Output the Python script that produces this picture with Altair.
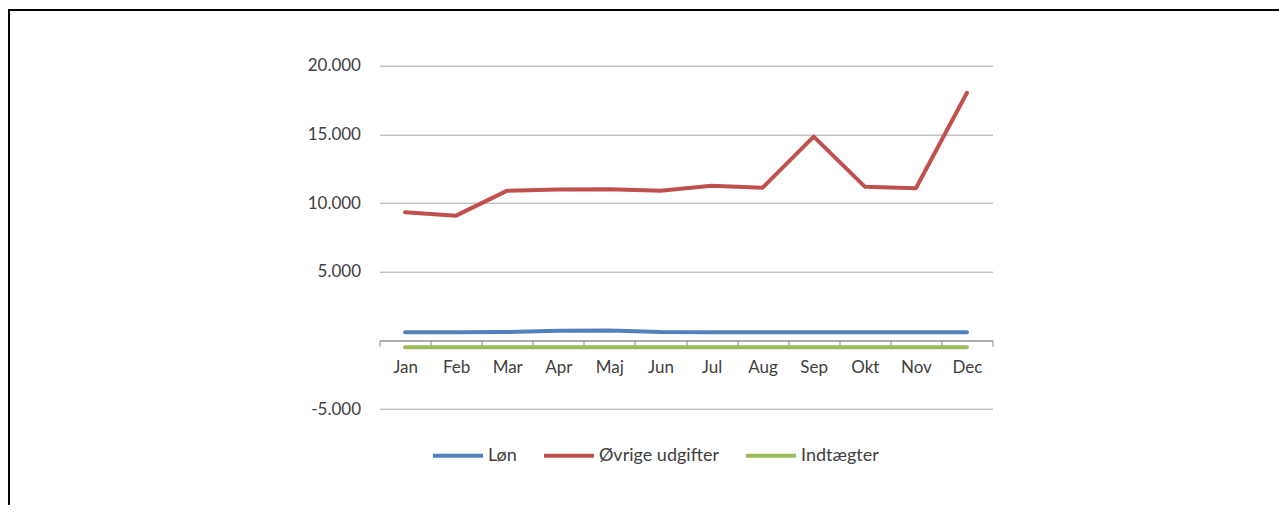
import altair as alt
import pandas as pd

# ---------------- data ----------------
months = ["Jan", "Feb", "Mar", "Apr", "Maj", "Jun", "Jul", "Aug", "Sep", "Okt", "Nov", "Dec"]
lon = [590, 590, 600, 690, 710, 600, 590, 590, 590, 590, 590, 590]
ovrige = [9320, 9080, 10900, 10980, 11000, 10900, 11260, 11120, 14830, 11190, 11080, 18030]
indtaegter = [-500, -500, -500, -500, -500, -500, -500, -500, -500, -500, -500, -500]
series_names = ["Løn", "Øvrige udgifter", "Indtægter"]
series_colors = ["#4F81BD", "#C0504D", "#9BBB59"]
y_ticks = [-5000, 0, 5000, 10000, 15000, 20000]
title_text = "Figur 1 – Forventet udgiftsniveau for løn, øvrige udgifter og indtægter 2019 i 1.000 kr."

rows = []
for i, m in enumerate(months):
    for name, vals in zip(series_names, [lon, ovrige, indtaegter]):
        rows.append({"Måned": m, "Serie": name, "Værdi": vals[i]})
df = pd.DataFrame(rows)

# ---------------- layout ----------------
W, H = 613, 343.3
YMIN, YMAX = -5000, 20000
zero_offset = -H * (0 - YMIN) / (YMAX - YMIN)
PAD_L, PAD_T = 371.5, 57.7
TOTAL_W, TOTAL_H = 1271, 497
FONT = "Lato"
FS = 17
LABEL_COLOR = "#404040"

x_axis = alt.Axis(
    offset=zero_offset,
    tickBand="extent",
    labelAngle=0,
    labelPadding=13,
    labelOverlap=False,
    tickSize=6,
    tickColor="#8C8C8C",
    domainColor="#8C8C8C",
    grid=False,
    title=None,
    labelFontSize=FS,
    labelFont=FONT,
    labelColor=LABEL_COLOR,
)

y_axis = alt.Axis(
    values=y_ticks,
    labelExpr="datum.value == 0 ? '' : (datum.value < 0 ? '-' : '') + replace(format(abs(datum.value), ','), ',', '.')",
    grid=True,
    gridColor="#A6A6A6",
    gridWidth=1,
    domain=False,
    ticks=False,
    labelPadding=19,
    labelFontSize=FS,
    labelFont=FONT,
    labelColor=LABEL_COLOR,
    title=None,
)

lines = alt.Chart(df).mark_line(strokeWidth=4, strokeCap="round", strokeJoin="round").encode(
    x=alt.X(
        "Måned:N",
        sort=months,
        scale=alt.Scale(type="band", domain=months, paddingInner=0, paddingOuter=0),
        bandPosition=0.5,
        axis=x_axis,
    ),
    y=alt.Y("Værdi:Q", scale=alt.Scale(domain=[YMIN, YMAX], nice=False), axis=y_axis),
    color=alt.Color(
        "Serie:N",
        scale=alt.Scale(domain=series_names, range=series_colors),
        legend=alt.Legend(
            orient="none",
            legendX=51.5,
            legendY=363,
            direction="horizontal",
            title=None,
            symbolType="stroke",
            symbolSize=2500,
            symbolStrokeWidth=4,
            labelFontSize=18,
            labelFont=FONT,
            labelColor=LABEL_COLOR,
            labelOffset=3,
            columnPadding=19,
        ),
    ),
    detail="Serie:N",
)

one = pd.DataFrame({"k": [0]})

box = alt.Chart(one).mark_rect(fillOpacity=0, stroke="black", strokeWidth=2).encode(
    x=alt.value(9 - (PAD_L + 8)),
    x2=alt.value(1400),
    y=alt.value(10 - (PAD_T + 8)),
    y2=alt.value(700),
)

title = alt.Chart(one).mark_text(
    align="left", baseline="alphabetic", fontSize=19, fontWeight="bold",
    font="DejaVu Sans", color="#7FB09A",
).encode(
    x=alt.value(22 - (PAD_L + 8)),
    y=alt.value(2 - (PAD_T + 8)),
    text=alt.value(title_text),
)

chart = alt.layer(box, title, lines).properties(
    width=W,
    height=H,
    autosize=alt.AutoSizeParams(type="none"),
    padding={"left": PAD_L, "top": PAD_T, "right": TOTAL_W - PAD_L - W, "bottom": TOTAL_H - PAD_T - H},
    background="white",
).configure_view(stroke=None)

chart.save("out.html", embed_options={"renderer": "svg", "actions": False})
